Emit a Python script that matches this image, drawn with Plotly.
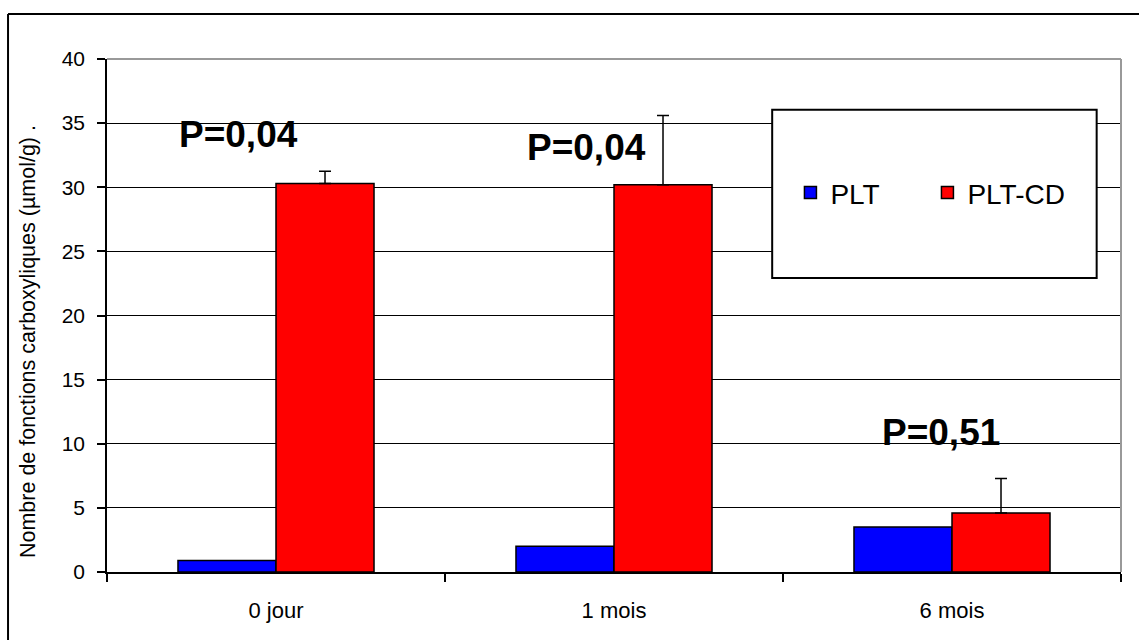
import plotly.graph_objects as go

categories = ["0 jour", "1 mois", "6 mois"]
plt_values = [0.9, 2.0, 3.5]
pltcd_values = [30.3, 30.2, 4.6]
pltcd_errors = [0.95, 5.4, 2.7]
p_labels = ["P=0,04", "P=0,04", "P=0,51"]
series_names = ["PLT", "PLT-CD"]
y_ticks = [0, 5, 10, 15, 20, 25, 30, 35, 40]
y_title = "Nombre de fonctions carboxyliques (µmol/g) ."

FONT = "Liberation Sans, Arial, sans-serif"

fig = go.Figure()
fig.add_trace(go.Bar(
    x=categories, y=plt_values, name=series_names[0],
    marker=dict(color="#0000FF", line=dict(color="black", width=1.5)),
))
fig.add_trace(go.Bar(
    x=categories, y=pltcd_values, name=series_names[1],
    marker=dict(color="#FF0000", line=dict(color="black", width=1.5)),
    error_y=dict(type="data", array=pltcd_errors, arrayminus=[0] * len(pltcd_errors),
                 symmetric=False, color="black", thickness=1.5, width=6),
))

# annotation placement (style): y position in axis units and x shift in px
ann_y = [34.1, 33.1, 10.9]
ann_dx = [-38, -28, -11]
annotations = []
for cat, lab, yy, dx in zip(categories, p_labels, ann_y, ann_dx):
    annotations.append(dict(x=cat, y=yy, xref="x", yref="y", text="<b>%s</b>" % lab,
                            showarrow=False, xshift=dx,
                            font=dict(family=FONT, size=37, color="black"),
                            xanchor="center", yanchor="middle"))
annotations.append(dict(x=-0.078, y=0.45, xref="paper", yref="paper", text=y_title,
                        textangle=-90, showarrow=False,
                        font=dict(family=FONT, size=21.5, color="black"),
                        xanchor="center", yanchor="middle"))

shapes = [
    # legend box
    dict(type="rect", xref="paper", yref="paper", x0=0.656, x1=0.976, y0=0.573, y1=0.901,
         fillcolor="white", line=dict(color="black", width=2), layer="above"),
    # plot area top/right border
    dict(type="line", xref="paper", yref="paper", x0=0, x1=1, y0=1, y1=1,
         line=dict(color="#999999", width=2), layer="above"),
    dict(type="line", xref="paper", yref="paper", x0=1, x1=1, y0=0, y1=1,
         line=dict(color="#999999", width=2), layer="above"),
    # outer chart frame
    dict(type="line", xref="paper", yref="paper", x0=-0.0976, x1=1.2, y0=1.0877, y1=1.0877,
         line=dict(color="black", width=2)),
    dict(type="line", xref="paper", yref="paper", x0=-0.0976, x1=-0.0976, y0=-0.3, y1=1.0877,
         line=dict(color="black", width=2)),
]

fig.update_layout(
    width=1139, height=640,
    margin=dict(l=107, r=18, t=59, b=68, autoexpand=False),
    paper_bgcolor="white", plot_bgcolor="white",
    barmode="group", bargap=0.42, bargroupgap=0,
    font=dict(family=FONT, color="black"),
    showlegend=True,
    legend=dict(orientation="h", x=0.674, y=0.739, xanchor="left", yanchor="middle",
                bgcolor="rgba(0,0,0,0)", borderwidth=0,
                font=dict(family=FONT, size=28, color="black"),
                entrywidth=92, entrywidthmode="pixels"),
    annotations=annotations,
    shapes=shapes,
)
fig.update_xaxes(
    showline=True, linecolor="black", linewidth=1.5,
    ticks="outside", tickson="boundaries", ticklen=8, tickcolor="black", tickwidth=1.5,
    tickfont=dict(family=FONT, size=22, color="black"),
    ticklabelstandoff=18, showgrid=False,
)
fig.update_yaxes(
    range=[0, 40], tickvals=y_ticks, showline=True, linecolor="black", linewidth=1.5,
    ticks="outside", ticklen=8, tickcolor="black", tickwidth=1.5,
    tickfont=dict(family=FONT, size=21, color="black"),
    ticklabelstandoff=8,
    showgrid=True, gridcolor="black", gridwidth=1.3, zeroline=False,
)

fig.write_html("out.html", config={"displayModeBar": False},
               post_script="document.body.style.margin='0';document.body.style.overflow='hidden';")
